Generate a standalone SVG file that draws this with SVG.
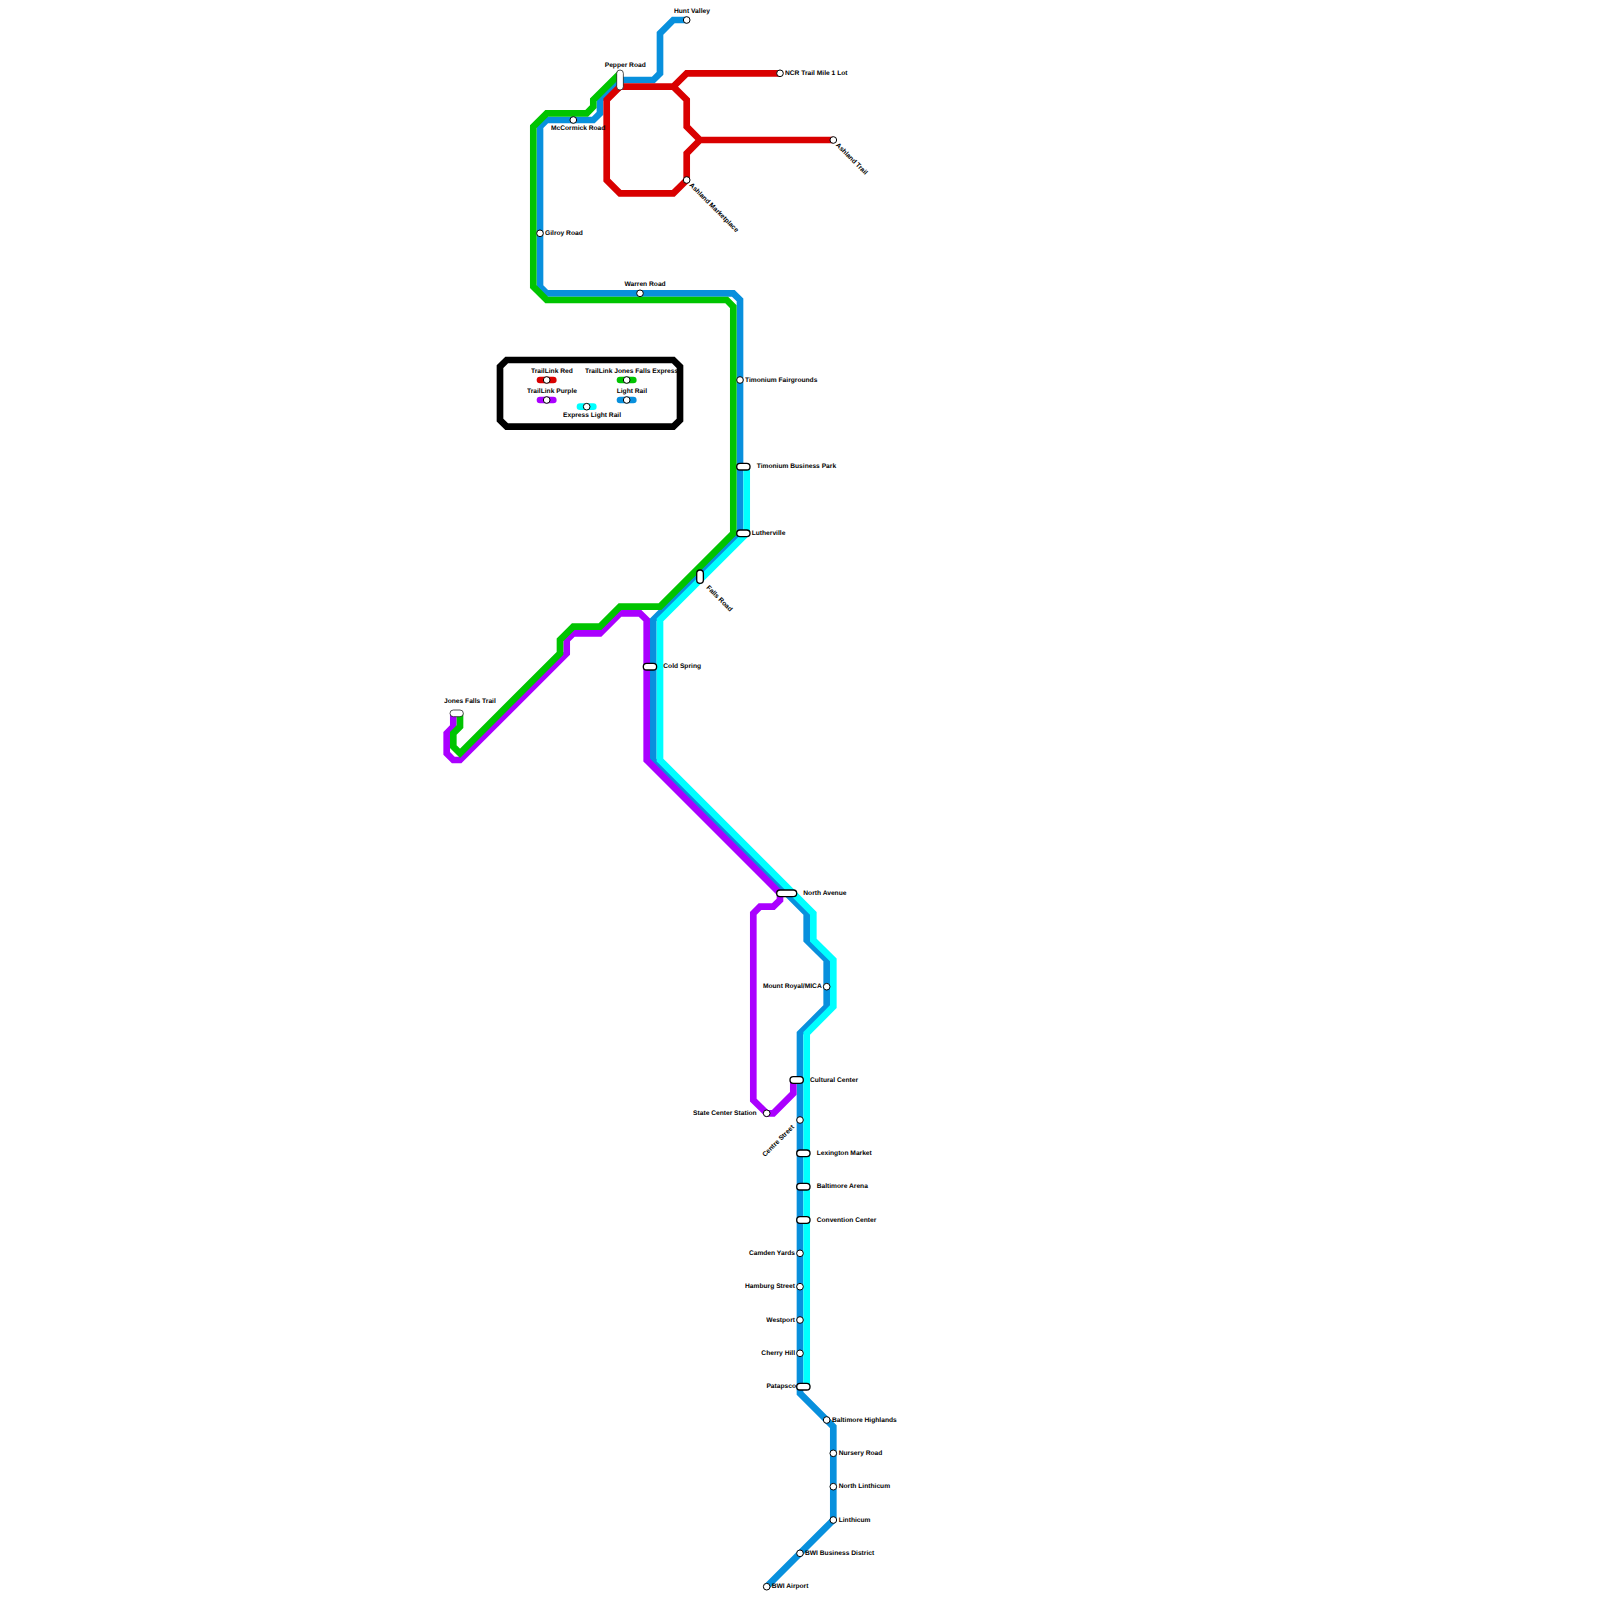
<svg xmlns="http://www.w3.org/2000/svg" width="1600" height="1600" viewBox="0 0 1600 1600">
<style>
.l{fill:none;stroke-width:6.67;stroke-linejoin:miter}
.red{stroke:#d90000}.green{stroke:#00c400}.blue{stroke:#0890dd}.purple{stroke:#aa00ff}.cyan{stroke:#00ffff}
.k{stroke-linecap:round}
.s{fill:#fff;stroke:#000;stroke-width:1}
.p{fill:#fff;stroke:#000;stroke-width:1.33}
.t{fill:#fff;stroke:#000;stroke-width:.67}
text{font-family:"Liberation Sans",Arial,sans-serif;font-size:6.67px;font-weight:700;fill:#000;text-rendering:geometricPrecision;opacity:.999}
.e{text-anchor:end}
</style>
<rect width="1600" height="1600" fill="#fff"/>
<g id="connectors">
<path class="l blue" d="M686.7,20H673.3L660,33.3V73.3L653.3,80H620L600,100V113.3L593.3,120H546.7L540,126.7V286.7L546.7,293.3H733.3L740,300V533.3L653.3,620V760L806.7,913.3V940L826.7,960V1006.7L800,1033.3V1393.3L833.3,1426.7V1520L766.7,1586.7"/>
<path class="l cyan" d="M746.7,466.7V533.3L660,620V760L813.3,913.3V940L833.3,960V1006.7L806.7,1033.3V1386.7"/>
<path class="l purple" d="M453.3,713.3V726.7L446.7,733.3V753.3L453.3,760H460L566.7,653.3V640L573.3,633.3H600L620,613.3H640L646.7,620V760L780,893.3V900L773.3,906.7H760L753.3,913.3V1100L766.7,1113.3H773.3L793.3,1093.3V1080"/>
<path class="l green" d="M620,73.3L593.3,100V106.7L586.7,113.3H546.7L533.3,126.7V286.7L546.7,300H726.7L733.3,306.7V533.3L660,606.7H620L600,626.7H573.3L560,640V653.3L460,753.3L453.3,746.7V733.3L460,726.7V713.3"/>
<path class="l red" d="M780,73.3H686.7L673.3,86.7H620L606.7,100V180L620,193.3H673.3L686.7,180V153.3L700,140H833.3M700,140L686.7,126.7V100L673.3,86.7"/>
</g>
<g id="legend">
<path fill="none" stroke="#000" stroke-width="6.67" d="M506.7,360H673.3L680,366.7V420L673.3,426.7H506.7L500,420V366.7Z"/>
<path class="l red k" d="M540,380H553.3"/><circle class="s" cx="546.7" cy="380" r="3.33"/><text x="531" y="373">TrailLink Red</text>
<path class="l green k" d="M620,380H633.3"/><circle class="s" cx="626.7" cy="380" r="3.33"/><text x="585" y="373">TrailLink Jones Falls Express</text>
<path class="l purple k" d="M540,400H553.3"/><circle class="s" cx="546.7" cy="400" r="3.33"/><text x="527" y="393">TrailLink Purple</text>
<path class="l blue k" d="M620,400H633.3"/><circle class="s" cx="626.7" cy="400" r="3.33"/><text x="616.7" y="393">Light Rail</text>
<path class="l cyan k" d="M580,406.7H593.3"/><circle class="s" cx="586.7" cy="406.7" r="3.33"/><text x="563" y="416.6">Express Light Rail</text>
</g>
<g id="hunt-valley"><circle class="s" cx="686.7" cy="20" r="3.33"/><text x="674" y="13">Hunt Valley</text></g>
<g id="ncr-trail"><circle class="s" cx="780" cy="73.3" r="3.33"/><text x="785" y="75.2">NCR Trail Mile 1 Lot</text></g>
<g id="ashland-trail"><circle class="s" cx="833.3" cy="140" r="3.33"/><text transform="translate(835.5,145.5) rotate(45)">Ashland Trail</text></g>
<g id="ashland-marketplace"><circle class="s" cx="686.7" cy="180" r="3.33"/><text transform="translate(689,185.5) rotate(45)">Ashland Marketplace</text></g>
<g id="pepper-road"><rect class="t" x="616.7" y="70" width="6.67" height="20" rx="3.33"/><text x="604.7" y="66.6">Pepper Road</text></g>
<g id="mccormick-road"><circle class="s" cx="573.3" cy="120" r="3.33"/><text x="551" y="129.7">McCormick Road</text></g>
<g id="gilroy-road"><circle class="s" cx="540" cy="233.3" r="3.33"/><text x="545" y="235.2">Gilroy Road</text></g>
<g id="warren-road"><circle class="s" cx="640" cy="293.3" r="3.33"/><text x="624.5" y="286.2">Warren Road</text></g>
<g id="timonium-fairgrounds"><circle class="s" cx="740" cy="380" r="3.33"/><text x="745" y="382">Timonium Fairgrounds</text></g>
<g id="timonium-business-park"><rect class="p" x="736.7" y="463.3" width="13.33" height="6.67" rx="3.33"/><text x="756.7" y="468.4">Timonium Business Park</text></g>
<g id="lutherville"><rect class="p" x="736.7" y="530" width="13.33" height="6.67" rx="3.33"/><text x="751.7" y="535.2">Lutherville</text></g>
<g id="falls-road"><rect class="p" x="696.7" y="570" width="6.67" height="13.33" rx="3.33"/><text transform="translate(706,588) rotate(45)">Falls Road</text></g>
<g id="cold-spring"><rect class="p" x="643.3" y="663.3" width="13.33" height="6.67" rx="3.33"/><text x="663.3" y="668.4">Cold Spring</text></g>
<g id="jones-falls-trail"><rect class="t" x="450" y="710" width="13.33" height="6.67" rx="3.33"/><text x="444" y="703">Jones Falls Trail</text></g>
<g id="north-avenue"><rect class="p" x="776.7" y="890" width="20" height="6.67" rx="3.33"/><text x="803.3" y="895.2">North Avenue</text></g>
<g id="mount-royal"><circle class="s" cx="826.7" cy="986.7" r="3.33"/><text class="e" x="821.7" y="988.4">Mount Royal/MICA</text></g>
<g id="cultural-center"><rect class="p" x="790" y="1076.7" width="13.33" height="6.67" rx="3.33"/><text x="810" y="1082">Cultural Center</text></g>
<g id="state-center"><circle class="s" cx="766.7" cy="1113.3" r="3.33"/><text class="e" x="756.7" y="1115.2">State Center Station</text></g>
<g id="centre-street"><circle class="s" cx="800" cy="1120" r="3.33"/><text class="e" transform="translate(794.5,1127.5) rotate(-45)">Centre Street</text></g>
<g id="lexington-market"><rect class="p" x="796.7" y="1150" width="13.33" height="6.67" rx="3.33"/><text x="816.7" y="1155.2">Lexington Market</text></g>
<g id="baltimore-arena"><rect class="p" x="796.7" y="1183.3" width="13.33" height="6.67" rx="3.33"/><text x="816.7" y="1188.4">Baltimore Arena</text></g>
<g id="convention-center"><rect class="p" x="796.7" y="1216.7" width="13.33" height="6.67" rx="3.33"/><text x="816.7" y="1222">Convention Center</text></g>
<g id="camden-yards"><circle class="s" cx="800" cy="1253.3" r="3.33"/><text class="e" x="795" y="1255.2">Camden Yards</text></g>
<g id="hamburg-street"><circle class="s" cx="800" cy="1286.7" r="3.33"/><text class="e" x="795" y="1288.4">Hamburg Street</text></g>
<g id="westport"><circle class="s" cx="800" cy="1320" r="3.33"/><text class="e" x="795" y="1322">Westport</text></g>
<g id="cherry-hill"><circle class="s" cx="800" cy="1353.3" r="3.33"/><text class="e" x="795" y="1355.2">Cherry Hill</text></g>
<g id="patapsco"><rect class="p" x="796.7" y="1383.3" width="13.33" height="6.67" rx="3.33"/><text class="e" x="796" y="1388.4">Patapsco</text></g>
<g id="baltimore-highlands"><circle class="s" cx="826.7" cy="1420" r="3.33"/><text x="832" y="1422">Baltimore Highlands</text></g>
<g id="nursery-road"><circle class="s" cx="833.3" cy="1453.3" r="3.33"/><text x="838.7" y="1455.2">Nursery Road</text></g>
<g id="north-linthicum"><circle class="s" cx="833.3" cy="1486.7" r="3.33"/><text x="838.7" y="1488.4">North Linthicum</text></g>
<g id="linthicum"><circle class="s" cx="833.3" cy="1520" r="3.33"/><text x="838.7" y="1522">Linthicum</text></g>
<g id="bwi-business"><circle class="s" cx="800" cy="1553.3" r="3.33"/><text x="805" y="1555.2">BWI Business District</text></g>
<g id="bwi-airport"><circle class="s" cx="766.7" cy="1586.7" r="3.33"/><text x="771.7" y="1588.4">BWI Airport</text></g>
</svg>
